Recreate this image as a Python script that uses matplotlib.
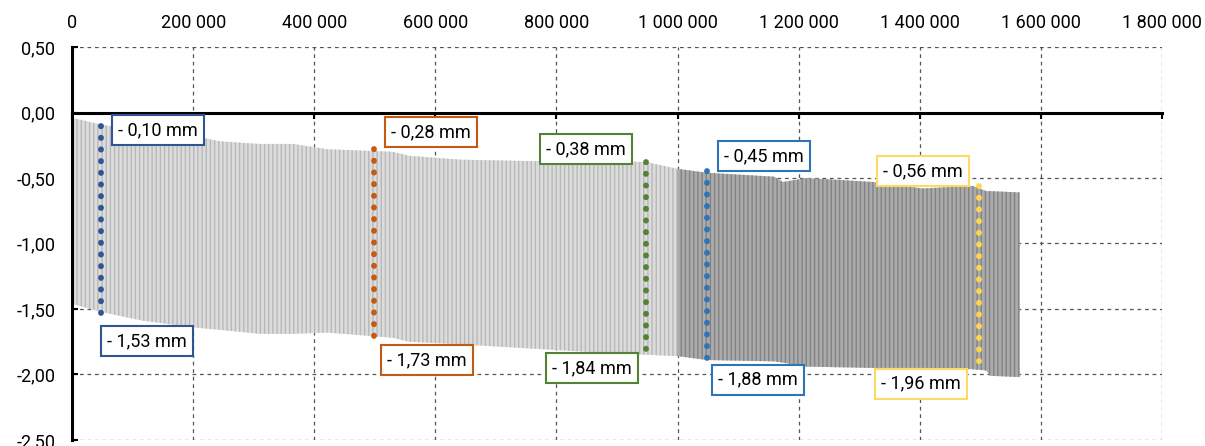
import matplotlib.pyplot as plt
import numpy as np
from matplotlib.ticker import FuncFormatter, MultipleLocator

plt.rcParams['font.family'] = ['Roboto', 'DejaVu Sans']

# envelope of the oscillating signal (upper / lower)
ciclos = [0, 46000, 96000, 117000, 200000, 245000, 310000, 365000, 421000,
          530000, 556000, 641000, 750000, 900000, 950000, 1000000, 1049000,
          1160000, 1174000, 1213000, 1322000, 1339000, 1405000, 1487000,
          1510000, 1516000, 1565000]
sup = [-0.04, -0.09, -0.13, -0.15, -0.18, -0.22, -0.24, -0.24, -0.28,
       -0.30, -0.33, -0.36, -0.37, -0.37, -0.38, -0.43, -0.46,
       -0.49, -0.53, -0.50, -0.53, -0.54, -0.58, -0.56,
       -0.60, -0.60, -0.61]
inf = [-1.46, -1.52, -1.57, -1.59, -1.64, -1.66, -1.69, -1.69, -1.68,
       -1.72, -1.75, -1.77, -1.80, -1.84, -1.85, -1.86, -1.89,
       -1.90, -1.91, -1.94, -1.95, -1.95, -1.95, -1.96,
       -1.97, -2.01, -2.02]
corte = 1000000  # change of shade

# measurement markers
med_x = [48000, 499000, 948000, 1049000, 1498000]
med_sup = [-0.10, -0.28, -0.38, -0.45, -0.56]
med_inf = [-1.53, -1.73, -1.84, -1.88, -1.96]
med_col = ['#2f5597', '#c55a11', '#548235', '#2e75b6', '#ffd54f']
lab_sup = [(142000, -0.137), (593000, -0.152), (849000, -0.28),
           (1143000, -0.335), (1405000, -0.45)]
lab_inf = [(124000, -1.745), (586000, -1.89), (859000, -1.95),
           (1133000, -2.04), (1402000, -2.07)]
box_col = ['#2f5597', '#c55a11', '#548235', '#2e75b6', '#ffd966']

fig = plt.figure(figsize=(12.05, 4.46), dpi=100)
ax = fig.add_axes([0.0598, 0.0135, 0.9045, 0.8811])

x = np.array(ciclos)
s = np.array(sup)
i = np.array(inf)
m1 = x <= corte
m2 = x >= corte
ax.fill_between(x[m1], i[m1], s[m1], facecolor='#dcdcdc', edgecolor='#b8b8b8',
                hatch='||||', linewidth=0, zorder=2)
ax.fill_between(x[m2], i[m2], s[m2], facecolor='#ababab', edgecolor='#838383',
                hatch='||||', linewidth=0, zorder=2)

for k in range(len(med_x)):
    ax.plot([med_x[k], med_x[k]], [med_sup[k], med_inf[k]], color=med_col[k],
            lw=4.2, ls=(0, (0.05, 1.95)), dash_capstyle='round', zorder=4)
    for (lx, ly), v in ((lab_sup[k], med_sup[k]), (lab_inf[k], med_inf[k])):
        txt = f"- {abs(v):.2f}".replace('.', ',') + " mm"
        ax.text(lx, ly, txt, ha='center', va='center', fontsize=13, zorder=5,
                bbox=dict(boxstyle='square,pad=0.33', fc='white',
                          ec=box_col[k], lw=1.5))

ax.set_xlim(0, 1800000)
ax.set_ylim(-2.5, 0.5)
ax.xaxis.set_major_locator(MultipleLocator(200000))
ax.yaxis.set_major_locator(MultipleLocator(0.5))
ax.xaxis.set_major_formatter(FuncFormatter(lambda v, p: f"{int(v):,}".replace(',', ' ')))
ax.yaxis.set_major_formatter(FuncFormatter(lambda v, p: f"{v:.2f}".replace('.', ',')))

ax.grid(True, color='#555555', lw=0.9, ls=(0, (3, 3)), zorder=1)
for sp in ('top', 'right'):
    ax.spines[sp].set_visible(False)
ax.spines['bottom'].set_position(('data', 0))
ax.spines['bottom'].set_linewidth(2.2)
ax.spines['bottom'].set_zorder(3)
ax.spines['left'].set_linewidth(2.2)

ax.tick_params(axis='x', bottom=True, top=False, labelbottom=False,
               labeltop=True, direction='out', length=4, width=1.5,
               labelsize=13, pad=7)
ax.tick_params(axis='y', direction='in', length=4, width=1.5,
               labelsize=13, pad=12)

fig.savefig('out.png', dpi=100)
